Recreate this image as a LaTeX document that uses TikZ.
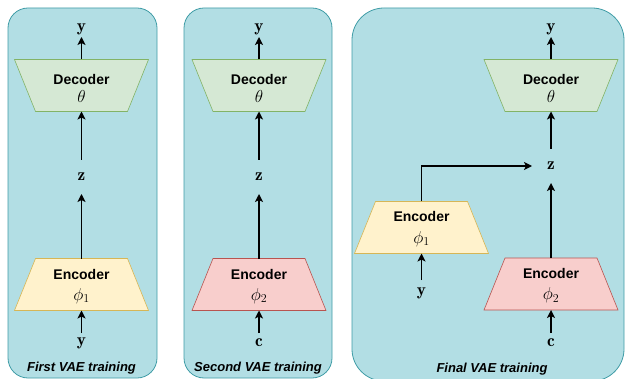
\documentclass[tikz,border=0pt]{standalone}
\usepackage{fontspec}
\setsansfont{Liberation Sans}
\usetikzlibrary{arrows.meta}

\definecolor{panelfill}{HTML}{B2DEE4}
\definecolor{panelline}{HTML}{3F9CA6}
\definecolor{decfill}{HTML}{D5E8D4}
\definecolor{decline}{HTML}{82B366}
\definecolor{encyfill}{HTML}{FFF2CC}
\definecolor{encyline}{HTML}{D6B656}
\definecolor{encrfill}{HTML}{F8CECC}
\definecolor{encrline}{HTML}{B85450}

\begin{document}
\begin{tikzpicture}[x=1pt,y=-1pt,
  panel/.style={draw=panelline, fill=panelfill, line width=0.8pt, rounded corners=20pt},
  trapbox/.style={minimum width=134pt, minimum height=52pt, inner sep=0pt, outer sep=0pt},
  hdr/.style={font=\sffamily\bfseries\fontsize{14}{16}\selectfont, inner sep=0pt, anchor=base},
  mth/.style={font=\fontsize{17.28}{19}\selectfont, inner sep=0pt, anchor=base},
  varnode/.style={font=\fontsize{17.28}{19}\selectfont, inner sep=0pt, outer sep=0pt, minimum width=30pt},
  paneltitle/.style={font=\sffamily\bfseries\itshape\fontsize{13}{15}\selectfont, inner sep=0pt},
  arr/.style={-{Stealth[length=8pt,width=8pt,inset=2pt]}, line width=1.5pt},
  decshape/.style={draw=decline, fill=decfill, line width=0.6pt},
  encyshape/.style={draw=encyline, fill=encyfill, line width=0.6pt},
  encrshape/.style={draw=encrline, fill=encrfill, line width=0.6pt}]

\useasboundingbox (0,0) rectangle (628,379);

% ---- three training panels
\draw[panel] (8,8) rectangle (157,378);
\draw[panel] (184,8) rectangle (332,378);
\draw[panel, rounded corners=32pt] (352,8) rectangle (624,381);

% ---- first VAE training
\node[trapbox] (dec1) at (81.5,85.5) {};
\draw[decshape] (dec1.north west) -- (dec1.north east) -- ([xshift=-21pt]dec1.south east) -- ([xshift=21pt]dec1.south west) -- cycle;
\node[hdr] (dec1h) at ([yshift=0.5pt]dec1.center) {Decoder};
\node[mth] (dec1p) at ([yshift=-17pt]dec1.center) {$\theta$};

\node[trapbox] (enc1) at (81.5,284.5) {};
\draw[encyshape] ([xshift=21pt]enc1.north west) -- ([xshift=-21pt]enc1.north east) -- (enc1.south east) -- (enc1.south west) -- cycle;
\node[hdr] (enc1h) at ([yshift=5.5pt]enc1.center) {Encoder};
\node[mth] (enc1p) at ([yshift=-15.5pt]enc1.center) {$\phi_1$};

\node[varnode, minimum height=16pt] (yo1) at (81.5,29) {$\mathbf{y}$};
\node[varnode, minimum height=34pt] (z1) at (81.5,177) {$\mathbf{z}$};
\node[varnode, minimum height=20pt] (yi1) at (81.5,343) {$\mathbf{y}$};
\node[paneltitle] (t1) at (81.5,368) {First VAE training};

\draw[arr] (dec1.north) -- (yo1.south);
\draw[arr] (z1.north) -- (dec1.south);
\draw[arr] (enc1.north) -- (z1.south);
\draw[arr] (yi1.north) -- (enc1.south);

% ---- second VAE training
\node[trapbox] (dec2) at (259,85.5) {};
\draw[decshape] (dec2.north west) -- (dec2.north east) -- ([xshift=-21pt]dec2.south east) -- ([xshift=21pt]dec2.south west) -- cycle;
\node[hdr] (dec2h) at ([yshift=0.5pt]dec2.center) {Decoder};
\node[mth] (dec2p) at ([yshift=-17pt]dec2.center) {$\theta$};

\node[trapbox] (enc2) at (259,284.5) {};
\draw[encrshape] ([xshift=21pt]enc2.north west) -- ([xshift=-21pt]enc2.north east) -- (enc2.south east) -- (enc2.south west) -- cycle;
\node[hdr] (enc2h) at ([yshift=5.5pt]enc2.center) {Encoder};
\node[mth] (enc2p) at ([yshift=-15.5pt]enc2.center) {$\phi_2$};

\node[varnode, minimum height=16pt] (yo2) at (259,29) {$\mathbf{y}$};
\node[varnode, minimum height=34pt] (z2) at (259,177) {$\mathbf{z}$};
\node[varnode, minimum height=20pt] (ci2) at (259,343) {$\mathbf{c}$};
\node[paneltitle] (t2) at (258,368) {Second VAE training};

\draw[arr] (dec2.north) -- (yo2.south);
\draw[arr] (z2.north) -- (dec2.south);
\draw[arr] (enc2.north) -- (z2.south);
\draw[arr] (ci2.north) -- (enc2.south);

% ---- final VAE training
\node[trapbox] (dec3) at (551,85.5) {};
\draw[decshape] (dec3.north west) -- (dec3.north east) -- ([xshift=-21pt]dec3.south east) -- ([xshift=21pt]dec3.south west) -- cycle;
\node[hdr] (dec3h) at ([yshift=0.5pt]dec3.center) {Decoder};
\node[mth] (dec3p) at ([yshift=-17pt]dec3.center) {$\theta$};

\node[trapbox] (enc3) at (551,284) {};
\draw[encrshape] ([xshift=21pt]enc3.north west) -- ([xshift=-21pt]enc3.north east) -- (enc3.south east) -- (enc3.south west) -- cycle;
\node[hdr] (enc3h) at ([yshift=5.5pt]enc3.center) {Encoder};
\node[mth] (enc3p) at ([yshift=-15.5pt]enc3.center) {$\phi_2$};

\node[trapbox] (enc4) at (421.5,227.5) {};
\draw[encyshape] ([xshift=21pt]enc4.north west) -- ([xshift=-21pt]enc4.north east) -- (enc4.south east) -- (enc4.south west) -- cycle;
\node[hdr] (enc4h) at ([yshift=5.5pt]enc4.center) {Encoder};
\node[mth] (enc4p) at ([yshift=-15.5pt]enc4.center) {$\phi_1$};

\node[varnode, minimum height=16pt] (yo3) at (551,29) {$\mathbf{y}$};
\node[varnode, minimum height=34pt, minimum width=38pt] (z3) at (551,166) {$\mathbf{z}$};
\node[varnode, minimum height=20pt] (ci3) at (551,343) {$\mathbf{c}$};
\node[varnode, minimum height=26pt] (yi4) at (421.5,293) {$\mathbf{y}$};
\node[paneltitle] (t3) at (492,369) {Final VAE training};

\draw[arr] (dec3.north) -- (yo3.south);
\draw[arr] (z3.north) -- (dec3.south);
\draw[arr] (enc3.north) -- (z3.south);
\draw[arr] (ci3.north) -- (enc3.south);
\draw[arr] (yi4.north) -- (enc4.south);
\draw[arr] (enc4.north) |- (z3.west);

\end{tikzpicture}
\end{document}
